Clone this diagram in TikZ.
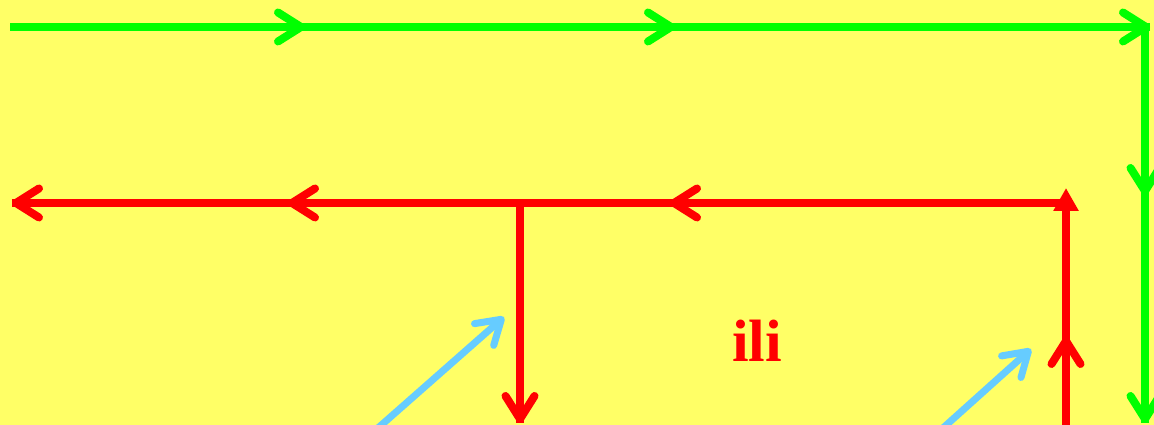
\documentclass[tikz,border=0pt]{standalone}
\usepackage{fontspec}
\setmainfont{Liberation Serif}
\usetikzlibrary{arrows.meta}
\definecolor{bgyellow}{HTML}{FFFF66}
\definecolor{flowgreen}{HTML}{00FF00}
\definecolor{flowred}{HTML}{FF0000}
\definecolor{skyblue}{HTML}{66CCFF}
\tikzset{
 barb/.style={-{Straight Barb[length=2.3mm,width=2.9mm,round]}},
 tri/.style={-{Triangle[length=2.3mm,width=2.4mm]}},
}
\begin{document}
\begin{tikzpicture}[x=0.1mm,y=-0.1mm,line width=0.8mm]
\fill[bgyellow] (0,0) rectangle (1154,425);
\useasboundingbox (0,0) rectangle (1154,425);
\clip (0,0) rectangle (1154,425);
% green path
\coordinate (g0) at (10,27);\coordinate (g1) at (305,27);\coordinate (g2) at (675,27);
\coordinate (g3) at (1150,27);\coordinate (g4) at (1145,27);
\coordinate (g5) at (1145,195);\coordinate (g6) at (1145,423);
\draw[flowgreen] (g0)--(g3) (g4)--(g6);
\draw[flowgreen,barb] (g0)--(g1);
\draw[flowgreen,barb] (g1)--(g2);
\draw[flowgreen,barb] (g2)--(g3);
\draw[flowgreen,barb] (g4)--(g5);
\draw[flowgreen,barb] (g5)--(g6);
% red path
\coordinate (r0) at (1062,203);\coordinate (r1) at (670,203);
\coordinate (r2) at (288,203);\coordinate (r3) at (12,203);
\coordinate (rj) at (520,203);\coordinate (rd) at (520,423);
\coordinate (s0) at (1066,440);\coordinate (s1) at (1066,337);\coordinate (s2) at (1066,200);
\draw[flowred] (r0)--(r3) (rj)--(rd) (s0)--(s2);
\draw[flowred,barb] (r0)--(r1);
\draw[flowred,barb] (r1)--(r2);
\draw[flowred,barb] (r2)--(r3);
\draw[flowred,barb] (rj)--(rd);
\draw[flowred,barb] (s0)--(s1);
\coordinate (s3) at (1066,188);
\draw[flowred,tri] (s1)--(s3);
% blue arrows
\coordinate (b0) at (378,428);\coordinate (b1) at (504,317);
\coordinate (c0) at (943,428);\coordinate (c1) at (1031,349);
\draw[skyblue,line width=0.7mm,barb] (b0)--(b1);
\draw[skyblue,line width=0.7mm,barb] (c0)--(c1);
\node[text=flowred,font=\bfseries\fontsize{17}{20}\selectfont] (ili) at (757,341) {ili};
\end{tikzpicture}
\end{document}
